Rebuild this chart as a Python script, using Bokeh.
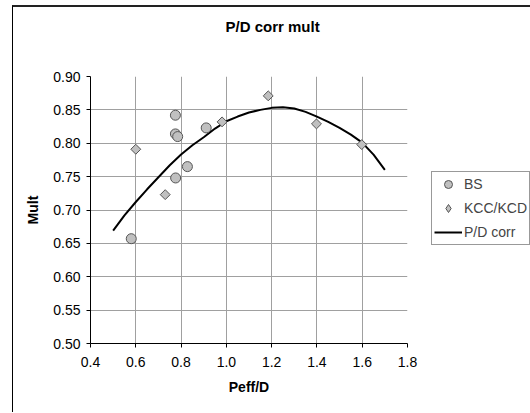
import math
from bokeh.plotting import figure
from bokeh.models import Legend, LegendItem, SingleIntervalTicker, NumeralTickFormatter, Range1d, Title
from bokeh.embed import file_html
from bokeh.resources import INLINE

bs_x = [0.58, 0.775, 0.775, 0.785, 0.776, 0.828, 0.911]
bs_y = [0.657, 0.842, 0.814, 0.810, 0.748, 0.765, 0.823]

kcc_x = [0.60, 0.73, 0.981, 1.185, 1.398, 1.598]
kcc_y = [0.791, 0.723, 0.832, 0.871, 0.829, 0.798]

corr_x = [0.50, 0.55, 0.60, 0.65, 0.70, 0.75, 0.80, 0.85, 0.90, 0.95, 1.00, 1.05, 1.10,
          1.15, 1.20, 1.25, 1.30, 1.35, 1.40, 1.45, 1.50, 1.55, 1.60, 1.65, 1.70]
corr_y = [0.669, 0.692, 0.712, 0.731, 0.749, 0.767, 0.783, 0.797, 0.809, 0.822, 0.833, 0.840, 0.846,
          0.850, 0.853, 0.854, 0.852, 0.847, 0.840, 0.832, 0.823, 0.813, 0.801, 0.783, 0.760]

FONT = "Liberation Sans"

p = figure(output_backend="svg", toolbar_location=None,
           frame_width=317, frame_height=267,
           min_border_left=77, min_border_right=123, min_border_top=69, min_border_bottom=69,
           x_range=Range1d(0.4, 1.8), y_range=Range1d(0.5, 0.9))
p.margin = (5, 0, 0, 12)
p.styles = {"border-left": "1px solid black", "border-top": "2px solid #222222"}
p.outline_line_color = None
p.background_fill_color = "white"
p.border_fill_color = "white"

p.title = Title(text="P/D corr mult", align="left", offset=135,
                text_font=FONT, text_font_size="15px", text_font_style="bold",
                text_color="black")
p.add_layout(Title(text=" ", text_font_size="22px"), "above")

p.xaxis.ticker = SingleIntervalTicker(interval=0.2, num_minor_ticks=0)
p.yaxis.ticker = SingleIntervalTicker(interval=0.05, num_minor_ticks=0)
p.xaxis.formatter = NumeralTickFormatter(format="0.0")
p.yaxis.formatter = NumeralTickFormatter(format="0.00")
for ax in (p.xaxis[0], p.yaxis[0]):
    ax.axis_line_color = "black"
    ax.major_tick_line_color = "black"
    ax.major_tick_out = 4
    ax.major_tick_in = 0
    ax.minor_tick_line_color = None
    ax.major_label_text_font = FONT
    ax.major_label_text_font_size = "14px"
    ax.major_label_text_color = "black"
    ax.axis_label_text_font = FONT
    ax.axis_label_text_font_size = "14px"
    ax.axis_label_text_font_style = "bold"
    ax.axis_label_text_color = "black"
p.xaxis.axis_label = "Peff/D"
p.yaxis.axis_label = "Mult"
p.xaxis.axis_label_standoff = 9
p.yaxis.axis_label_standoff = 9
p.xaxis.major_label_standoff = 9
p.yaxis.major_label_standoff = 6

p.grid.grid_line_color = "#a0a0a0"
p.grid.grid_line_width = 1

r_line = p.line(corr_x, corr_y, line_color="black", line_width=2)
p.scatter(bs_x, bs_y, marker="circle", size=10, fill_color="#c0c0c0",
          line_color="#555555", line_width=1)
p.scatter(kcc_x, kcc_y, marker="square", size=7, angle=math.pi / 4,
          fill_color="#c0c0c0", line_color="#555555", line_width=1)

# legend swatches: one point placed outside the visible ranges, so only the legend shows it
leg_bs = p.scatter([0.0], [0.0], marker="circle", size=8, fill_color="#c0c0c0",
                   line_color="#555555", line_width=1)
leg_kcc = p.scatter([0.0], [0.0], marker="diamond", size=11, fill_color="#c0c0c0",
                    line_color="#555555", line_width=1)

legend = Legend(items=[LegendItem(label="BS", renderers=[leg_bs]),
                       LegendItem(label="KCC/KCD", renderers=[leg_kcc]),
                       LegendItem(label="P/D corr", renderers=[r_line])],
                location=(24, 98))
legend.label_text_font = FONT
legend.label_text_font_size = "14px"
legend.border_line_color = "#333333"
legend.border_line_width = 1
legend.padding = 2
legend.spacing = 4
legend.glyph_width = 28
legend.glyph_height = 20
legend.label_standoff = 2
legend.label_height = 20
legend.margin = 0
p.add_layout(legend, "right")

open("out.html", "w").write(file_html(p, INLINE))
